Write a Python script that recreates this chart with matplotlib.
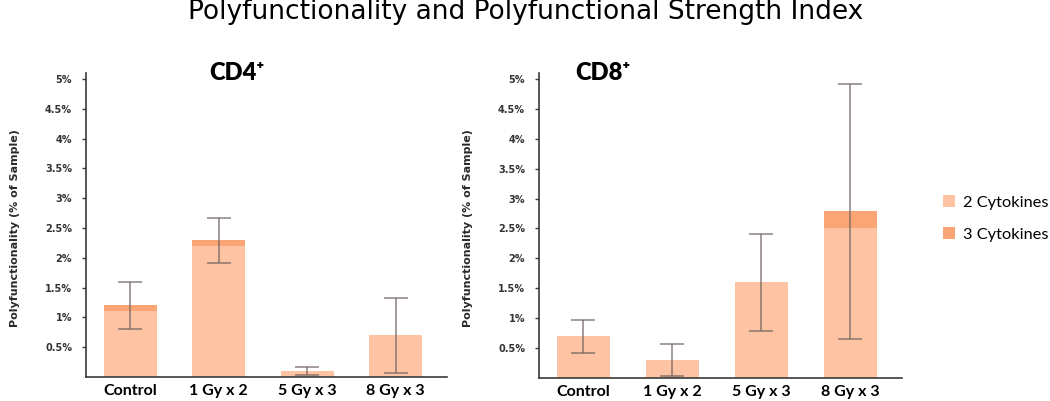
import numpy as np
import matplotlib
matplotlib.use('Agg')
import matplotlib.pyplot as plt
from matplotlib.patches import Patch

# --------------------------------------------------
# Data (% of sample)
# --------------------------------------------------
categories = ['Control', '1 Gy x 2', '5 Gy x 3', '8 Gy x 3']

cd4_two = [1.1, 2.2, 0.1, 0.7]
cd4_three = [0.1, 0.1, 0.0, 0.0]
cd4_err_low = [0.8, 1.92, 0.03, 0.06]
cd4_err_high = [1.6, 2.67, 0.17, 1.32]

cd8_two = [0.7, 0.3, 1.6, 2.5]
cd8_three = [0.0, 0.0, 0.0, 0.3]
cd8_err_low = [0.42, 0.03, 0.79, 0.66]
cd8_err_high = [0.97, 0.57, 2.41, 4.92]

y_ticks = [0.5, 1, 1.5, 2, 2.5, 3, 3.5, 4, 4.5, 5]

# --------------------------------------------------
# Style
# --------------------------------------------------
c_two = '#FDC3A3'
c_three = '#FBA474'
c_err = '#6e625e'
c_axis = '#3a3a3a'
txt_font = ['Lato', 'DejaVu Sans']


def draw_panel(ax, two, three, err_low, err_high):
    x = np.arange(len(categories))
    two = np.array(two)
    three = np.array(three)
    total = two + three
    ax.bar(x, two, width=0.6, color=c_two, zorder=1)
    ax.bar(x, three, width=0.6, bottom=two, color=c_three, zorder=1)

    yerr = [total - np.array(err_low), np.array(err_high) - total]
    ax.errorbar(x, total, yerr=yerr, fmt='none', ecolor=c_err,
                elinewidth=1.1, capsize=8.5, capthick=1.1, alpha=0.8, zorder=2)

    ax.set_xlim(-0.5, 3.58)
    ax.set_ylim(0, 5.1)
    ax.set_yticks(y_ticks)
    ax.set_yticklabels([f'{v:g}%' for v in y_ticks],
                       fontsize=7, fontweight='bold', color='#333333',
                       family='DejaVu Sans')
    ax.set_xticks(x)
    ax.set_xticklabels(categories, fontsize=11.5, fontweight='bold',
                       family=txt_font)
    ax.tick_params(axis='x', length=0, pad=5)
    ax.tick_params(axis='y', length=3, width=1, color=c_axis, pad=7)

    for side in ['top', 'right']:
        ax.spines[side].set_visible(False)
    for side in ['left', 'bottom']:
        ax.spines[side].set_color(c_axis)
        ax.spines[side].set_linewidth(1.2)

    ax.set_ylabel('Polyfunctionality (% of Sample)', fontsize=8,
                  fontweight='bold', color='#2a2a2a', family='DejaVu Sans')
    ax.yaxis.set_label_coords(-0.183, 0.49)


fig = plt.figure(figsize=(10.5, 4.01), dpi=100)

ax1 = fig.add_axes([0.0819, 0.0599, 0.3438, 0.7581])
draw_panel(ax1, cd4_two, cd4_three, cd4_err_low, cd4_err_high)

ax2 = fig.add_axes([0.5133, 0.0574, 0.3457, 0.7606])
draw_panel(ax2, cd8_two, cd8_three, cd8_err_low, cd8_err_high)

fig.text(0.501, 0.952, 'Polyfunctionality and Polyfunctional Strength Index',
         ha='center', va='baseline', fontsize=19, family='DejaVu Sans')
fig.text(0.2257, 0.80, 'CD4\u207a', ha='center', va='baseline',
         fontsize=17, fontweight='heavy', family=txt_font)
fig.text(0.574, 0.80, 'CD8\u207a', ha='center', va='baseline',
         fontsize=17, fontweight='heavy', family=txt_font)

handles = [Patch(facecolor=c_two, edgecolor='none', label='2 Cytokines'),
           Patch(facecolor=c_three, edgecolor='none', label='3 Cytokines')]
fig.legend(handles=handles, loc='upper left', bbox_to_anchor=(0.898, 0.513),
           frameon=False, prop={'family': txt_font, 'size': 11.8},
           handlelength=0.75, handleheight=0.75, handletextpad=0.45,
           labelspacing=1.05, borderpad=0, borderaxespad=0)

fig.savefig('out.png', dpi=100)
